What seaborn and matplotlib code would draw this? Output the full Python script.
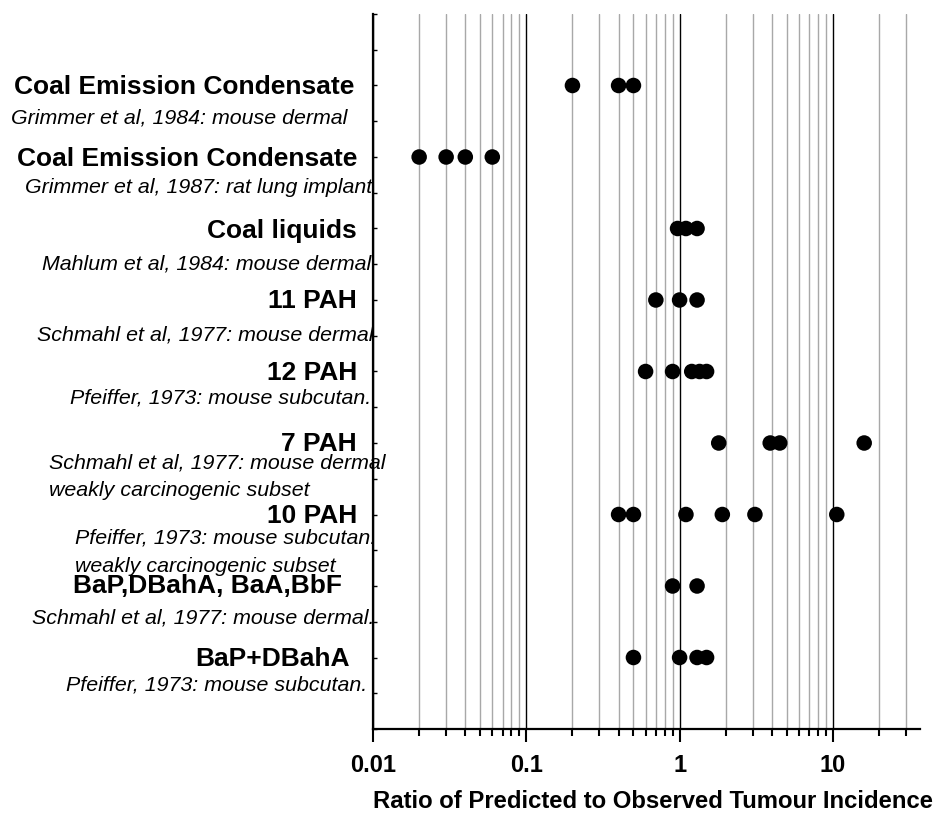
import numpy as np
import pandas as pd
import matplotlib
matplotlib.use("Agg")
import matplotlib.pyplot as plt
import seaborn as sns
from matplotlib.ticker import LogLocator, NullFormatter

# Mixtures tested, listed from top to bottom
mixtures = [
    "Coal Emission Condensate",
    "Coal Emission Condensate",
    "Coal liquids",
    "11 PAH",
    "12 PAH",
    "7 PAH",
    "10 PAH",
    "BaP,DBahA, BaA,BbF",
    "BaP+DBahA",
]

# Study reference lines printed under each mixture name
studies = [
    ["Grimmer et al, 1984: mouse dermal"],
    ["Grimmer et al, 1987: rat lung implant"],
    ["Mahlum et al, 1984: mouse dermal"],
    ["Schmahl et al, 1977: mouse dermal"],
    ["Pfeiffer, 1973: mouse subcutan."],
    ["Schmahl et al, 1977: mouse dermal", "weakly carcinogenic subset"],
    ["Pfeiffer, 1973: mouse subcutan.", "weakly carcinogenic subset"],
    ["Schmahl et al, 1977: mouse dermal."],
    ["Pfeiffer, 1973: mouse subcutan."],
]

# Ratio of predicted to observed tumour incidence, one list per mixture
ratios_coal_emission_1984 = [0.2, 0.4, 0.5]
ratios_coal_emission_1987 = [0.02, 0.03, 0.04, 0.06]
ratios_coal_liquids = [0.97, 1.1, 1.3]
ratios_11_pah = [0.7, 1.0, 1.3]
ratios_12_pah = [0.6, 0.9, 1.2, 1.35, 1.5]
ratios_7_pah = [1.8, 3.9, 4.5, 16.0]
ratios_10_pah = [0.4, 0.5, 1.1, 1.9, 3.1, 10.6]
ratios_bap_dbaha_baa_bbf = [0.9, 1.3]
ratios_bap_dbaha = [0.5, 1.0, 1.3, 1.5]

ratio_lists = [
    ratios_coal_emission_1984,
    ratios_coal_emission_1987,
    ratios_coal_liquids,
    ratios_11_pah,
    ratios_12_pah,
    ratios_7_pah,
    ratios_10_pah,
    ratios_bap_dbaha_baa_bbf,
    ratios_bap_dbaha,
]

x_tick_values = [0.01, 0.1, 1, 10]
x_tick_labels = ["0.01", "0.1", "1", "10"]
x_label = "Ratio of Predicted to Observed Tumour Incidence"

# Long-form table: mixtures stacked on a numeric row axis (top row highest)
n_rows = len(mixtures)
records = []
for i, vals in enumerate(ratio_lists):
    for v in vals:
        records.append({"row": n_rows - i, "ratio": v, "mixture": mixtures[i]})
df = pd.DataFrame(records)

sns.set_style("ticks")
plt.rcParams["font.family"] = ["Liberation Sans", "DejaVu Sans"]
plt.rcParams["text.color"] = "black"
plt.rcParams["axes.labelcolor"] = "black"
plt.rcParams["xtick.color"] = "black"
plt.rcParams["ytick.color"] = "black"
plt.rcParams["axes.edgecolor"] = "black"

W, H = 938, 813
fig = plt.figure(figsize=(W / 100, H / 100), dpi=100)
ax = fig.add_axes([373 / W, 1 - 729 / H, (920 - 373) / W, (729 - 14) / H])

sns.scatterplot(data=df, x="ratio", y="row", color="black", s=125,
                edgecolor="none", legend=False, ax=ax, zorder=3, clip_on=False)

ax.set_xscale("log")
ax.set_xlim(0.01, 37)
ax.set_ylim(0, 10)

# Vertical grid: decades in black, intermediate values in grey
ax.xaxis.set_minor_locator(LogLocator(base=10, subs=np.arange(2, 10)))
ax.xaxis.set_minor_formatter(NullFormatter())
ax.grid(which="minor", axis="x", color="#a8a8a8", lw=1.0)
ax.grid(which="major", axis="x", color="black", lw=1.0)
ax.grid(which="both", axis="y", visible=False)
ax.set_axisbelow(True)

ax.set_xticks(x_tick_values, labels=x_tick_labels, fontsize=17,
              fontweight="bold", color="black")
ax.tick_params(axis="x", which="major", direction="out", length=9.5, width=1.5,
               pad=8.5, color="black", labelcolor="black")
ax.tick_params(axis="x", which="minor", direction="out", length=5, width=1.5,
               color="black")

ax.set_yticks(np.arange(0, 10.01, 0.5))
ax.set_yticklabels([])
ax.tick_params(axis="y", which="major", direction="in", length=3, width=1,
               color="black")

for side in ["top", "right"]:
    ax.spines[side].set_visible(False)
for side in ["left", "bottom"]:
    ax.spines[side].set_color("black")
    ax.spines[side].set_linewidth(1.6)

ax.set_ylabel("")
ax.set_xlabel(x_label, fontsize=17.2, fontweight="bold", ha="left",
              va="baseline", color="black")
ax.xaxis.set_label_coords(0, -(808 - 729) / (729 - 14))

# Row labels to the left of the axis (pixel positions)
title_right = [354, 357, 357, 357, 357, 357, 357, 342, 350]
title_baseline = [94, 166, 238, 308, 380, 451, 523, 593, 666]
study_left = [[11], [25], [42], [37], [70], [49, 49], [75, 75], [32], [66]]
study_baseline = [[123], [193], [269], [340], [404], [468, 496], [543, 572],
                  [623], [690]]

for i, name in enumerate(mixtures):
    fig.text(title_right[i] / W, 1 - title_baseline[i] / H, name,
             ha="right", va="baseline", fontsize=19, fontweight="bold",
             color="black")
    for line, xl, yb in zip(studies[i], study_left[i], study_baseline[i]):
        fig.text(xl / W, 1 - yb / H, line, ha="left", va="baseline",
                 fontsize=15.4, fontstyle="italic", color="black")

fig.savefig("out.png", dpi=100)
